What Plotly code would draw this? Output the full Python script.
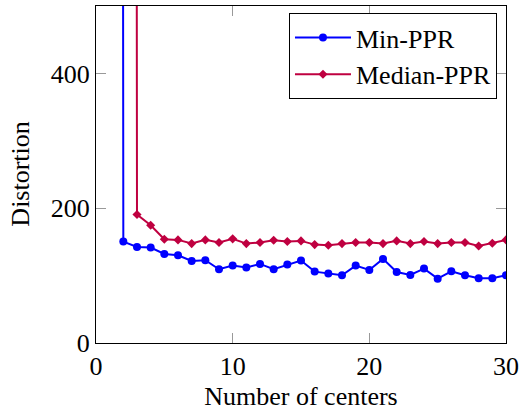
import plotly.graph_objects as go

x_min = list(range(1, 31))
min_ppr = [20000, 150.5, 142.6, 141.6, 132.2, 130.2, 121.8, 122.8, 109.4, 114.9,
           111.9, 117.3, 109.4, 116.3, 122.3, 105.9, 103.0, 100.5, 114.9, 108.4,
           124.8, 105.4, 101.0, 110.4, 95.5, 106.4, 100.5, 96.0, 96.0, 100.5]
x_med = list(range(1, 31))
median_ppr = [20000, 20000, 190.6, 174.8, 154.0, 153.0, 147.5, 153.0, 149.0, 154.5,
              147.5, 149.0, 152.5, 150.5, 151.5, 146.0, 145.0, 147.5, 149.0, 149.0,
              147.5, 151.5, 147.5, 150.5, 147.5, 149.0, 149.0, 144.0, 148.0, 153.0]
x_ticks = [0, 10, 20, 30]
y_ticks = [0, 200, 400]

FONT = "Liberation Serif, Times New Roman, serif"

fig = go.Figure()
fig.add_trace(go.Scatter(x=x_min, y=min_ppr, name="Min-PPR", mode="lines+markers",
                         line=dict(color="#0000ff", width=2),
                         marker=dict(symbol="circle", size=8, color="#0000ff")))
fig.add_trace(go.Scatter(x=x_med, y=median_ppr, name="Median-PPR", mode="lines+markers",
                         line=dict(color="#bf0040", width=2),
                         marker=dict(symbol="diamond", size=7, color="#bf0040")))

axis_common = dict(showgrid=False, zeroline=False, showline=True, linecolor="black",
                   linewidth=1, mirror="ticks", ticks="inside", ticklen=10,
                   tickcolor="#999999", tickwidth=1,
                   tickfont=dict(family=FONT, size=26, color="black"))

fig.update_xaxes(range=[0, 30], tickvals=x_ticks,
                 title=dict(text="Number of centers", font=dict(family=FONT, size=26, color="black"), standoff=6),
                 **axis_common)
fig.update_yaxes(range=[0, 500], tickvals=y_ticks, **axis_common)

fig.add_annotation(text="Distortion", xref="paper", yref="paper", x=-0.185, y=0.5,
                   xanchor="center", yanchor="middle", textangle=-90, showarrow=False,
                   font=dict(family=FONT, size=26, color="black"))

fig.update_layout(
    width=519, height=413,
    margin=dict(l=96, r=13, t=6, b=70, autoexpand=False),
    paper_bgcolor="white", plot_bgcolor="white",
    font=dict(family=FONT, size=26, color="black"),
    legend=dict(x=0.978, y=0.979, xanchor="right", yanchor="top",
                bgcolor="white", bordercolor="black", borderwidth=1,
                font=dict(family=FONT, size=26, color="black"),
                tracegroupgap=0, itemwidth=56),
    showlegend=True,
)

fig.write_html("out.html", config={"displayModeBar": False},
               post_script="document.body.style.margin='0';document.body.style.padding='0';")
